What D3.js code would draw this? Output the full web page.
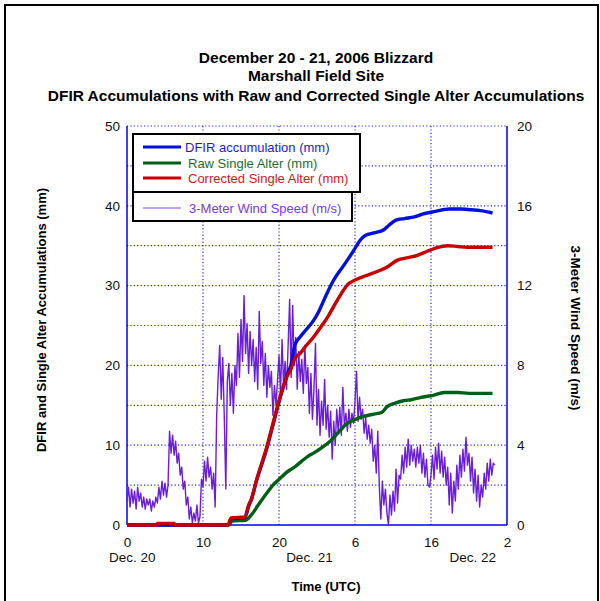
<!DOCTYPE html>
<html><head><meta charset="utf-8">
<script src="https://cdn.jsdelivr.net/npm/d3@7/dist/d3.min.js"></script>
<style>body{margin:0;background:#fff}svg{display:block;font-family:Arial,"Liberation Sans",sans-serif}</style>
</head><body><svg id="c" width="600" height="601"></svg>
<script>
// ---- data ----
const titleLines = ["December 20 - 21, 2006 Blizzard", "Marshall Field Site", "DFIR Accumulations with Raw and Corrected Single Alter Accumulations"];
const xTickHours = [0, 10, 20, 30, 40, 50];
const xTickLabels = ["0", "10", "20", "6", "16", "2"];
const dayLabels = ["Dec. 20", "Dec. 21", "Dec. 22"];
const dayLabelHours = [0.7, 24, 45.5];
const leftTicks = [0, 10, 20, 30, 40, 50];
const rightTicks = [0, 4, 8, 12, 16, 20];

// accumulations (hours since Dec 20 00 UTC, mm)
const dfirHours = [0,13.3,13.7,15.5,16.0,16.4,17,18.4,19.2,20,21,21.6,22.1,22.8,23.5,24.6,25.2,26.2,27.2,28.5,29.9,30.6,31.4,32.5,33.8,34.5,35.4,36.5,37.8,39.0,40.6,42.4,44.0,45.3,46.5,48.1];
const dfirVals  = [0,0,0.8,0.9,2.3,3.3,5.4,9.6,12.5,15.4,18.6,20.2,22.6,23.6,24.4,25.7,26.7,28.8,30.7,32.5,34.5,35.6,36.3,36.6,37.0,37.6,38.2,38.4,38.6,39.0,39.3,39.6,39.6,39.5,39.4,39.1];
const rawHours = [0,13.4,13.8,15.6,16.4,17.2,18.4,19.2,20.0,21.0,22.1,23.0,23.8,24.7,25.5,26.9,28.0,28.9,30.0,31.1,32.5,33.5,34.2,35.2,36.5,37.4,38.7,40.0,41.8,43.5,45,48.1];
const rawVals  = [0,0,0.5,0.6,1.3,2.4,4.0,5.0,5.7,6.6,7.3,8.0,8.6,9.1,9.6,10.65,11.8,12.7,13.2,13.6,13.9,14.1,14.8,15.25,15.6,15.7,16.0,16.2,16.6,16.6,16.5,16.5];
const corrHours = [0,3.9,4.0,6.2,6.3,13.3,13.7,15.5,16.0,16.4,17,18.4,19.2,20,21,21.6,22.1,22.8,23.5,24.5,25.5,26.5,27.2,28.2,29.0,30,31.6,33,34,35.6,37,38.2,39.5,40.6,42.2,43.5,44.8,46.5,48.1];
const corrVals  = [0,0,0.2,0.2,0,0,0.9,1.0,2.5,3.3,5.5,9.8,12.7,15.6,18.5,19.6,20.9,21.5,22.4,23.5,24.8,26.2,27.4,29.0,30.1,30.7,31.3,31.8,32.2,33.2,33.5,33.8,34.3,34.7,35.0,34.9,34.8,34.8,34.8];

// 3-m wind speed (m/s), one reading every 0.2 h from 0 UTC Dec 20
const windStepH = 0.2;
const windVals = [
1.2,1.9,0.9,1.8,1.1, 1.7,0.8,1.9,1.2,1.6, 0.9,1.4,0.8,1.3,1.0, 1.3,0.7,1.2,0.9,1.4,
1.1,1.9,1.3,2.2,1.5, 2.1,1.4,2.0,4.7,3.6, 4.5,3.5,4.2,3.1,3.6, 2.5,2.9,1.8,2.2,1.0,
1.4,0.3,0.9,0.1,0.6, 0.2,1.0,0.1,0.4,2.3, 1.9,3.2,2.2,3.4,2.4, 2.9,1.8,2.6,0.9,5.5,
7.5,9.0,6.3,8.4,5.4, 1.8,7.2,8.1,6.0,7.6, 5.6,8.0,7.0,9.6,7.4, 10.3,8.2,11.5,8.6,10.1,
7.6,9.7,8.0,9.3,7.2, 8.9,6.8,10.7,8.1,9.2, 7.0,8.6,6.4,8.0,6.9, 7.7,5.5,7.0,6.0,7.2,
8.5,6.6,9.3,7.0,8.2, 6.8,9.0,11.3,7.4,11.0, 8.0,9.4,6.8,8.7,7.2, 8.3,6.6,9.0,7.1,7.9,
5.6,7.6,5.3,6.8,9.1, 5.0,6.8,4.5,6.2,5.0, 7.3,4.8,6.0,4.4,5.7, 3.3,5.2,4.0,5.8,4.6,
5.9,4.5,6.9,5.0,5.6, 4.7,5.8,4.9,5.6,5.1, 6.2,7.7,5.2,6.4,5.3, 5.8,4.6,5.4,4.3,5.0,
4.1,4.8,3.2,4.0,2.6, 4.7,1.9,0.3,2.2,1.0, 1.8,0.6,0.0,1.5,0.5, 1.7,0.7,2.8,1.1,2.5,
2.3,3.5,2.6,3.9,2.9, 4.3,3.0,4.0,3.2,3.8, 2.9,3.9,3.1,4.0,2.6, 3.6,2.4,3.3,2.0,1.9,
2.5,3.5,2.3,3.9,2.8, 4.1,2.6,3.7,2.4,3.4, 2.0,2.9,1.0,2.6,0.6, 2.2,1.2,3.0,1.8,3.5,
2.4,3.8,2.7,4.4,3.0, 3.6,2.2,3.4,1.6,2.8, 1.2,2.5,0.9,2.0,1.4, 2.6,1.8,3.1,2.2,3.3,
2.5,3.1,3.0];

const seriesNames = ["DFIR accumulation (mm)", "Raw Single Alter (mm)", "Corrected Single Alter (mm)", "3-Meter Wind Speed (m/s)"];

// ---- drawing ----
const svg = d3.select("#c");
const L = 127, R = 507, T = 126, B = 525;
const x = d3.scaleLinear().domain([0, 50]).range([L, R]);
const yL = d3.scaleLinear().domain([0, 50]).range([B, T]);
const yR = d3.scaleLinear().domain([0, 20]).range([B, T]);
const gridColor = "#2828d8", axisColor = "#0000f0";

// outer frame
svg.append("rect").attr("x", 5).attr("y", 5).attr("width", 593).attr("height", 610)
  .attr("fill", "none").attr("stroke", "#000").attr("stroke-width", 2);

// title
svg.append("g").selectAll("text").data(titleLines).join("text")
  .attr("x", 316).attr("y", (d, i) => [63, 81, 101][i])
  .attr("text-anchor", "middle").attr("font-size", 15.5).attr("font-weight", "bold").text(d => d);

// grid
const grid = svg.append("g").attr("stroke", gridColor).attr("stroke-width", 1.2).attr("stroke-dasharray", "1.2,2.2");
grid.selectAll(".h").data(d3.range(5, 51, 5)).join("line")
  .attr("x1", L).attr("x2", R).attr("y1", d => yL(d)).attr("y2", d => yL(d));
grid.selectAll(".v").data([10, 20, 30, 40]).join("line")
  .attr("y1", T).attr("y2", B).attr("x1", d => x(d)).attr("x2", d => x(d));

// axes lines
const ax = svg.append("g").attr("stroke", axisColor).attr("stroke-width", 1.5);
ax.append("line").attr("x1", L).attr("x2", L).attr("y1", T).attr("y2", B);
ax.append("line").attr("x1", R).attr("x2", R).attr("y1", T).attr("y2", B);
ax.append("line").attr("x1", L).attr("x2", R).attr("y1", B).attr("y2", B);

// tick labels via axes
const styleAxis = g => { g.select(".domain").remove(); g.selectAll("line").remove();
  g.selectAll("text").attr("font-size", 13.5).attr("fill", "#111").attr("font-family", "Arial, 'Liberation Sans', sans-serif"); };
svg.append("g").attr("transform", `translate(${L - 7},0)`)
  .call(d3.axisLeft(yL).tickValues(leftTicks).tickSize(0).tickPadding(0)).call(styleAxis);
svg.append("g").attr("transform", `translate(${R + 10},0)`)
  .call(d3.axisRight(yR).tickValues(rightTicks).tickSize(0).tickPadding(0)).call(styleAxis)
  .selectAll("text").attr("x", 0);
svg.append("g").attr("transform", `translate(0,${B + 12})`)
  .call(d3.axisBottom(x).tickValues(xTickHours).tickFormat((d, i) => xTickLabels[i]).tickSize(0).tickPadding(0)).call(styleAxis);
svg.append("g").selectAll("text").data(dayLabels).join("text")
  .attr("x", (d, i) => x(dayLabelHours[i])).attr("y", 562).attr("text-anchor", "middle")
  .attr("font-size", 13.5).attr("fill", "#111").text(d => d);

// axis titles
svg.append("text").attr("transform", "translate(46,320) rotate(-90)").attr("text-anchor", "middle")
  .attr("font-size", 13).attr("font-weight", "bold").text("DFIR and Single Alter Accumulations (mm)");
svg.append("text").attr("transform", "translate(571,328) rotate(90)").attr("text-anchor", "middle")
  .attr("font-size", 13.5).attr("font-weight", "bold").text("3-Meter Wind Speed (m/s)");
svg.append("text").attr("x", 326).attr("y", 591).attr("text-anchor", "middle")
  .attr("font-size", 13).attr("font-weight", "bold").text("Time (UTC)");

// wind line
const windLine = d3.line().x((d, i) => x(i * windStepH)).y(d => yR(d));
svg.append("path").datum(windVals).attr("d", windLine).attr("fill", "none")
  .attr("stroke", "#6a1fd6").attr("stroke-width", 1.4).attr("stroke-linejoin", "round");

// accumulation lines
const accLine = hours => d3.line().x((d, i) => x(hours[i])).y(d => yL(d)).curve(d3.curveMonotoneX);
const accs = [[dfirHours, dfirVals, "#0010dd"], [corrHours, corrVals, "#c80000"], [rawHours, rawVals, "#006018"]];
[accs[2], accs[0], accs[1]].forEach(([h, v, c]) => {
  svg.append("path").datum(v).attr("d", accLine(h)).attr("fill", "none")
    .attr("stroke", c).attr("stroke-width", 3.4).attr("stroke-linejoin", "round");
});

// legend
const lg = svg.append("g");
lg.append("rect").attr("x", 133).attr("y", 134).attr("width", 227).attr("height", 58)
  .attr("fill", "#fff").attr("stroke", "#000").attr("stroke-width", 2);
lg.append("rect").attr("x", 133).attr("y", 192).attr("width", 219).attr("height", 29)
  .attr("fill", "#fff").attr("stroke", "#000").attr("stroke-width", 2);
const legendColors = ["#0010dd", "#006018", "#c80000", "#8a4ae6"];
const legendText = ["#1a1ae0", "#1e6e2e", "#d01818", "#7a3ae0"];
const legendY = [147, 163, 178, 208];
const legendTextX = [185, 188, 188, 189];
seriesNames.forEach((n, i) => {
  lg.append("line").attr("x1", 143).attr("x2", 181).attr("y1", legendY[i]).attr("y2", legendY[i])
    .attr("stroke", legendColors[i]).attr("stroke-width", i < 3 ? 3.2 : 1);
  lg.append("text").attr("x", legendTextX[i]).attr("y", legendY[i] + 5).attr("font-size", 13)
    .attr("fill", legendText[i]).text(n);
});
</script></body></html>
